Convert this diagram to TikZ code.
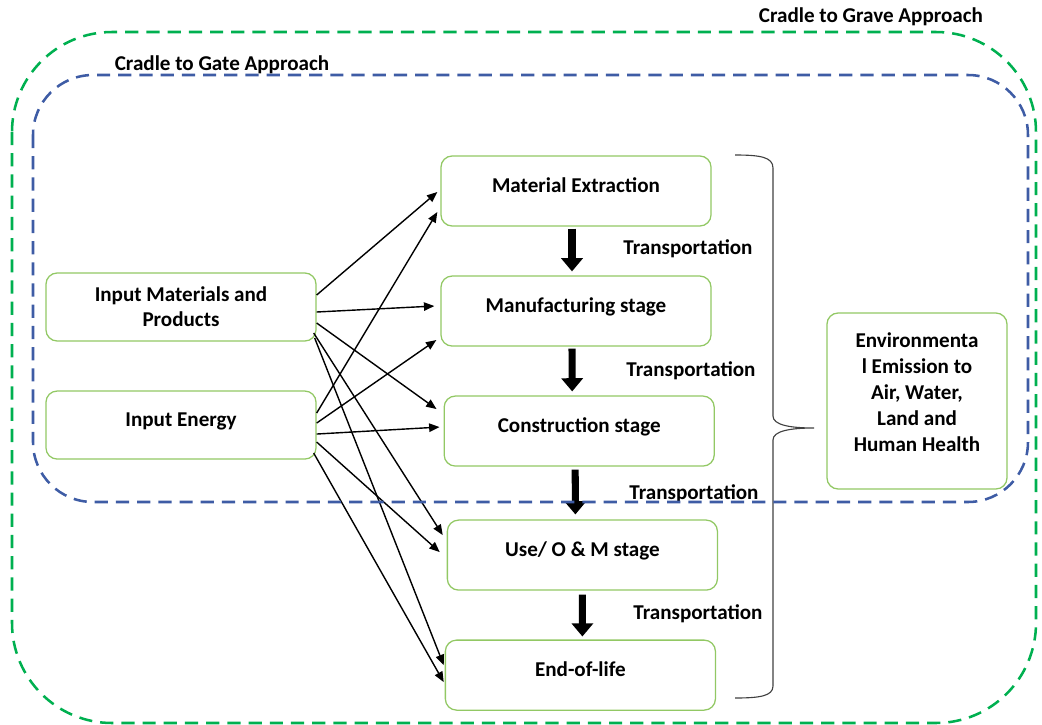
\documentclass[tikz,border=0pt]{standalone}
\usepackage{fontspec}
\setmainfont{Carlito}
\usetikzlibrary{arrows.meta,calc}
\definecolor{boxgreen}{RGB}{146,200,100}
\definecolor{gravegreen}{RGB}{0,176,80}
\definecolor{gateblue}{RGB}{62,92,165}
\tikzset{
  box/.style={draw=boxgreen, line width=0.9pt, rounded corners=0.28cm,
    minimum width=6.75cm, minimum height=1.75cm, align=center,
    font=\bfseries\fontsize{15}{17.8}\selectfont},
  stage/.style={box, text height=0.3cm, text depth=0.25cm},
  flow/.style={-{Triangle[length=2.6mm,width=2.1mm]}, line width=1pt},
  bigarrow/.style={-{Triangle[length=0.33cm,width=0.53cm]}, line width=5pt},
  label/.style={font=\bfseries\fontsize{15}{17.8}\selectfont},
  frame/.style={line width=1.8pt, dash pattern=on 0.33cm off 0.2cm},
}
\begin{document}
\begin{tikzpicture}[x=0.025cm,y=-0.025cm]
  \useasboundingbox (0,0) rectangle (1042,725);
  % life cycle stages
  \node (ME) [stage] at (576,191) {Material Extraction};
  \node (MS) [stage, below of=ME, node distance=3cm] {Manufacturing stage};
  \node (CS) [stage, below of=MS, node distance=3cm, xshift=0.08cm] {Construction stage};
  \node (UM) [stage, below of=CS, node distance=3.1cm, xshift=0.08cm] {Use/ O \& M stage};
  \node (EL) [stage, below of=UM, node distance=3cm, xshift=-0.05cm] {End-of-life};
  % inputs
  \node (IM) [box, minimum height=1.7cm] at (181,307) {Input Materials and\\Products};
  \node (IE) [stage, minimum height=1.7cm, below of=IM, node distance=2.95cm] {Input Energy};
  % output
  \node (EN) [box, minimum width=4.5cm, minimum height=4.4cm, text depth=0.45cm,
    font=\bfseries\fontsize{15}{18.5}\selectfont]
    at (917,401) {Environmenta\\l Emission to\\Air, Water,\\Land and\\Human Health};
  % transport between stages
  \draw[bigarrow] ($(ME.south)+(-4,2)$) -- ($(MS.north)+(-4,-4)$);
  \draw[bigarrow] ($(MS.south)+(-4,2)$) -- ($(CS.north)+(-7,-4)$);
  \draw[bigarrow] ($(CS.south)+(-4,3)$) -- ($(UM.north)+(-7,-5)$);
  \draw[bigarrow] ($(UM.south)+(0,4)$) -- ($(EL.north)+(2,-3)$);
  \node (T1) [label] at (688,249) {Transportation};
  \node (T2) [label] at (691,371) {Transportation};
  \node (T3) [label] at (694,494) {Transportation};
  \node (T4) [label] at (698,614) {Transportation};
  % inputs to every stage
  \path[flow] ($(IM.east)+(0,-12)$) edge ($(ME.west)+(-3,1)$)
              ($(IM.east)+(0,5)$)   edge ($(MS.west)+(-6,-5)$)
              ($(IM.east)+(0,16)$)  edge ($(CS.west)+(-7,-22)$)
              ($(IM.east)+(-3,26)$) edge ($(UM.west)+(-4,-20)$)
              ($(IM.east)+(-2,31)$) edge ($(EL.west)+(-1,-10)$)
              ($(IE.east)+(0,-12)$) edge ($(ME.west)+(-3,21)$)
              ($(IE.east)+(0,-2)$)  edge ($(MS.west)+(-4,29)$)
              ($(IE.east)+(0,9)$)   edge ($(CS.west)+(-4,-4)$)
              ($(IE.east)+(0,17)$)  edge ($(UM.west)+(-7,-3)$)
              ($(IE.east)+(-3,28)$) edge ($(EL.west)+(-1,7)$);
  % brace
  \draw[black!75, line width=0.8pt] (735,155) .. controls (760,155) and (773,157) .. (773,168)
    -- (773,416) .. controls (773,425) and (790,428) .. (814,428)
    .. controls (790,428) and (773,431) .. (773,440)
    -- (773,686) .. controls (773,696) and (760,698) .. (735,698);
  % system boundaries
  \draw[frame, gravegreen, rounded corners=2.5cm] (12,32) rectangle (1036,723);
  \draw[frame, gateblue, rounded corners=1.5cm] (33,75) rectangle (1028,502);
  \node (grave) [label] at (871,17) {Cradle to Grave Approach};
  \node (gate) [label] at (222,65) {Cradle to Gate Approach};
\end{tikzpicture}
\end{document}
